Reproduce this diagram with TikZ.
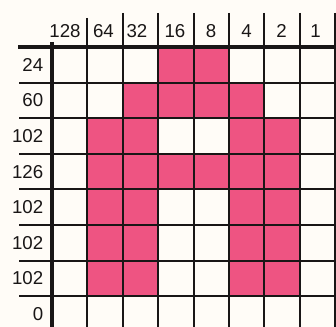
\documentclass[tikz,border=0pt]{standalone}
\usepackage{fontspec}
\setmainfont{Liberation Sans}
\definecolor{pinkcell}{RGB}{238,84,130}
\definecolor{paper}{RGB}{255,252,247}
\definecolor{ink}{RGB}{25,22,22}
\begin{document}
\begin{tikzpicture}[x=0.75pt,y=-0.75pt,
  thinline/.style={draw=ink,line width=1.5pt},
  thickline/.style={draw=ink,line width=2.3pt},
  hdr/.style={font=\fontsize{14}{16}\selectfont,anchor=base,inner sep=0pt,text=ink},
  rowlab/.style={font=\fontsize{14}{16}\selectfont,anchor=east,inner sep=0pt,text=ink},
  cell/.style={fill=pinkcell}]
\useasboundingbox (0,0) rectangle (336,327);
\fill[paper] (0,0) rectangle (336,327);
\def\cw{35.4}
\def\rh{35.6}
% pink cells: row index, list of column indices
\foreach \r/\cols in {0/{3,4},1/{2,3,4,5},2/{1,2,5,6},3/{1,2,3,4,5,6},4/{1,2,5,6},5/{1,2,5,6},6/{1,2,5,6}}{
  \foreach \c in \cols {
    \fill[cell] ({52+\c*\cw},{47+\r*\rh}) rectangle ({52+(\c+1)*\cw},{47+(\r+1)*\rh});
  }
}
% horizontal lines
\foreach \r in {1,...,7}{
  \draw[thinline] (19,{47+\r*\rh}) -- (336,{47+\r*\rh});
}
\draw[thickline] (18,47) -- (336,47);
% vertical lines
\draw[thickline] (52,42) -- (52,327);
\draw[thinline] ({52+\cw},18) -- ({52+\cw},327);
\foreach \c in {2,...,8}{
  \draw[thinline] ({52+\c*\cw},13) -- ({52+\c*\cw},327);
}
% column headers
\node[hdr] (h128) at (65,37.5) {128};
\node[hdr] (h64) at (103.5,37.5) {64};
\node[hdr] (h32) at (137,37.5) {32};
\node[hdr] (h16) at (175,37.5) {16};
\node[hdr] (h8) at (211,37.5) {8};
\node[hdr] (h4) at (246.5,37.5) {4};
\node[hdr] (h2) at (281.5,37.5) {2};
\node[hdr] (h1) at (315.5,37.5) {1};
% row labels
\foreach \r/\v in {0/24,1/60,2/102,3/126,4/102,5/102,6/102,7/0}{
  \node[rowlab] (r\r) at (43.5,{47+(\r+0.5)*\rh}) {\v};
}
\end{tikzpicture}
\end{document}
